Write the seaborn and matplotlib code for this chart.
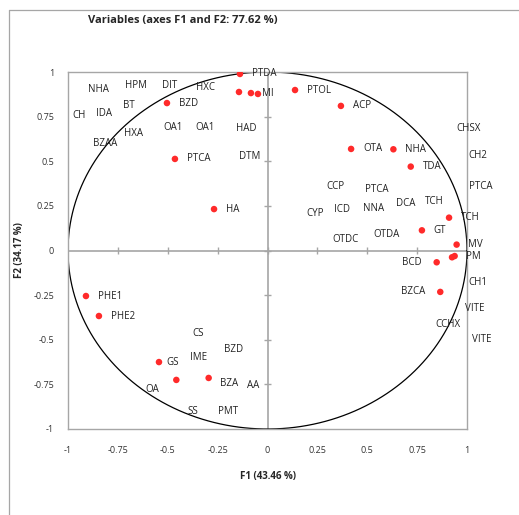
import numpy as np
import pandas as pd
import matplotlib
matplotlib.use("Agg")
import matplotlib.pyplot as plt
import seaborn as sns
from matplotlib.lines import Line2D

# Loadings of the variables shown as points (F1, F2)
point_f1 = [-0.138, -0.143, -0.083, -0.048, -0.504, 0.138, 0.368, -0.464, -0.268,
            0.419, 0.631, 0.718, 0.910, 0.774, 0.948, 0.925, 0.938, 0.848, 0.866,
            -0.910, -0.845, -0.544, -0.457, -0.295]
point_f2 = [0.989, 0.888, 0.882, 0.877, 0.826, 0.899, 0.810, 0.513, 0.232,
            0.569, 0.567, 0.470, 0.184, 0.113, 0.033, -0.038, -0.031, -0.066, -0.232,
            -0.255, -0.367, -0.625, -0.725, -0.714]
point_names = ["PTDA", "", "", "MI", "BZD", "PTOL", "ACP", "PTCA", "HA",
               "OTA", "NHA", "TDA", "TCH", "GT", "MV", "", "PM", "BCD", "BZCA",
               "PHE1", "PHE2", "GS", "", "BZA"]

# Variable names printed without a marker (F1, F2)
free_names = ["NHA", "HPM", "DIT", "HXC", "CH", "IDA", "BT", "HXA", "BZAA", "OA1", "OA1",
              "HAD", "DTM", "CCP", "PTCA", "CYP", "ICD", "NNA", "DCA", "TCH", "OTDC", "OTDA",
              "CHSX", "CH2", "PTCA", "CH1", "VITE", "CCHX", "VITE",
              "CS", "BZD", "IME", "AA", "OA", "SS", "PMT"]
free_f1 = [-0.848, -0.659, -0.489, -0.312, -0.945, -0.818, -0.694, -0.673, -0.815, -0.472, -0.313,
           -0.109, -0.088, 0.343, 0.547, 0.238, 0.372, 0.531, 0.694, 0.835, 0.393, 0.594,
           1.007, 1.054, 1.069, 1.054, 1.040, 0.906, 1.074,
           -0.347, -0.168, -0.347, -0.071, -0.577, -0.372, -0.196]
free_f2 = [0.903, 0.925, 0.925, 0.914, 0.757, 0.769, 0.811, 0.657, 0.601, 0.690, 0.690,
           0.681, 0.529, 0.358, 0.339, 0.208, 0.227, 0.236, 0.264, 0.272, 0.059, 0.092,
           0.681, 0.535, 0.357, -0.178, -0.324, -0.412, -0.498,
           -0.464, -0.552, -0.600, -0.757, -0.776, -0.903, -0.903]

ticks = [-1, -0.75, -0.5, -0.25, 0, 0.25, 0.5, 0.75, 1]
tick_labels = ["-1", "-0.75", "-0.5", "-0.25", "0", "0.25", "0.5", "0.75", "1"]

sns.set_style("white")
plt.rcParams["font.family"] = ["Open Sans", "DejaVu Sans"]

df = pd.DataFrame({"F1": point_f1, "F2": point_f2, "name": point_names})

fig = plt.figure(figsize=(5.19, 5.15), dpi=100)
ax = fig.add_axes([68 / 519, 1 - 429 / 515, 399 / 519, 357 / 515])

# outer frame of the chart area
fig.add_artist(Line2D([9 / 519, 9 / 519], [0, 1 - 10 / 515], color="#a6a6a6", lw=0.9))
fig.add_artist(Line2D([9 / 519, 1], [1 - 10 / 515, 1 - 10 / 515], color="#a6a6a6", lw=0.9))

# zero axes with small ticks
ax.axhline(0, color="#a6a6a6", lw=1.2, zorder=1)
ax.axvline(0, color="#a6a6a6", lw=1.2, zorder=1)
ax.vlines([t for t in ticks if t not in (-1, 1)], -0.02, 0.02, color="#a6a6a6", lw=1.0)
ax.hlines([t for t in ticks if t not in (-1, 1)], -0.02, 0.02, color="#a6a6a6", lw=1.0)

# correlation circle
theta = np.linspace(0, 2 * np.pi, 400)
ax.plot(np.cos(theta), np.sin(theta), color="black", lw=0.9, zorder=2)

sns.scatterplot(data=df, x="F1", y="F2", color="#ff2a2a", s=22, edgecolor="none",
                ax=ax, zorder=3)

for _, r in df.iterrows():
    if not r["name"]:
        continue
    if r["name"] in ("BCD", "BZCA"):
        off, ha = (-11, 0), "right"
    elif r["name"] == "MI":
        off, ha = (3, 0), "left"
    elif r["name"] == "GS":
        off, ha = (5, 0), "left"
    elif r["name"] == "BZA":
        off, ha = (8, -4), "left"
    else:
        off, ha = (8.5, 0), "left"
    ax.annotate(r["name"], (r["F1"], r["F2"]), xytext=off, textcoords="offset points",
                ha=ha, va="center", fontsize=7, color="#222222")

for name, x, y in zip(free_names, free_f1, free_f2):
    ax.text(x, y, name, ha="center", va="center", fontsize=7, color="#222222",
            clip_on=False)

ax.set_xlim(-1, 1)
ax.set_ylim(-1, 1)
ax.set_xticks(ticks)
ax.set_xticklabels(tick_labels)
ax.set_yticks(ticks)
ax.set_yticklabels(tick_labels)
ax.tick_params(length=0, labelsize=6.5, colors="#333333")
ax.tick_params(axis="x", pad=12)
ax.tick_params(axis="y", pad=10)
for s in ax.spines.values():
    s.set_color("#a6a6a6")
    s.set_linewidth(1.0)

ax.set_xlabel("F1 (43.46 %)", fontsize=7, fontweight="bold", labelpad=12)
ax.set_ylabel("F2 (34.17 %)", fontsize=7, fontweight="bold", labelpad=6)
fig.text(88 / 519, 1 - 20 / 515, "Variables (axes F1 and F2: 77.62 %)", fontsize=8,
         fontweight="bold", ha="left", va="center")

fig.savefig("out.png", dpi=100)
